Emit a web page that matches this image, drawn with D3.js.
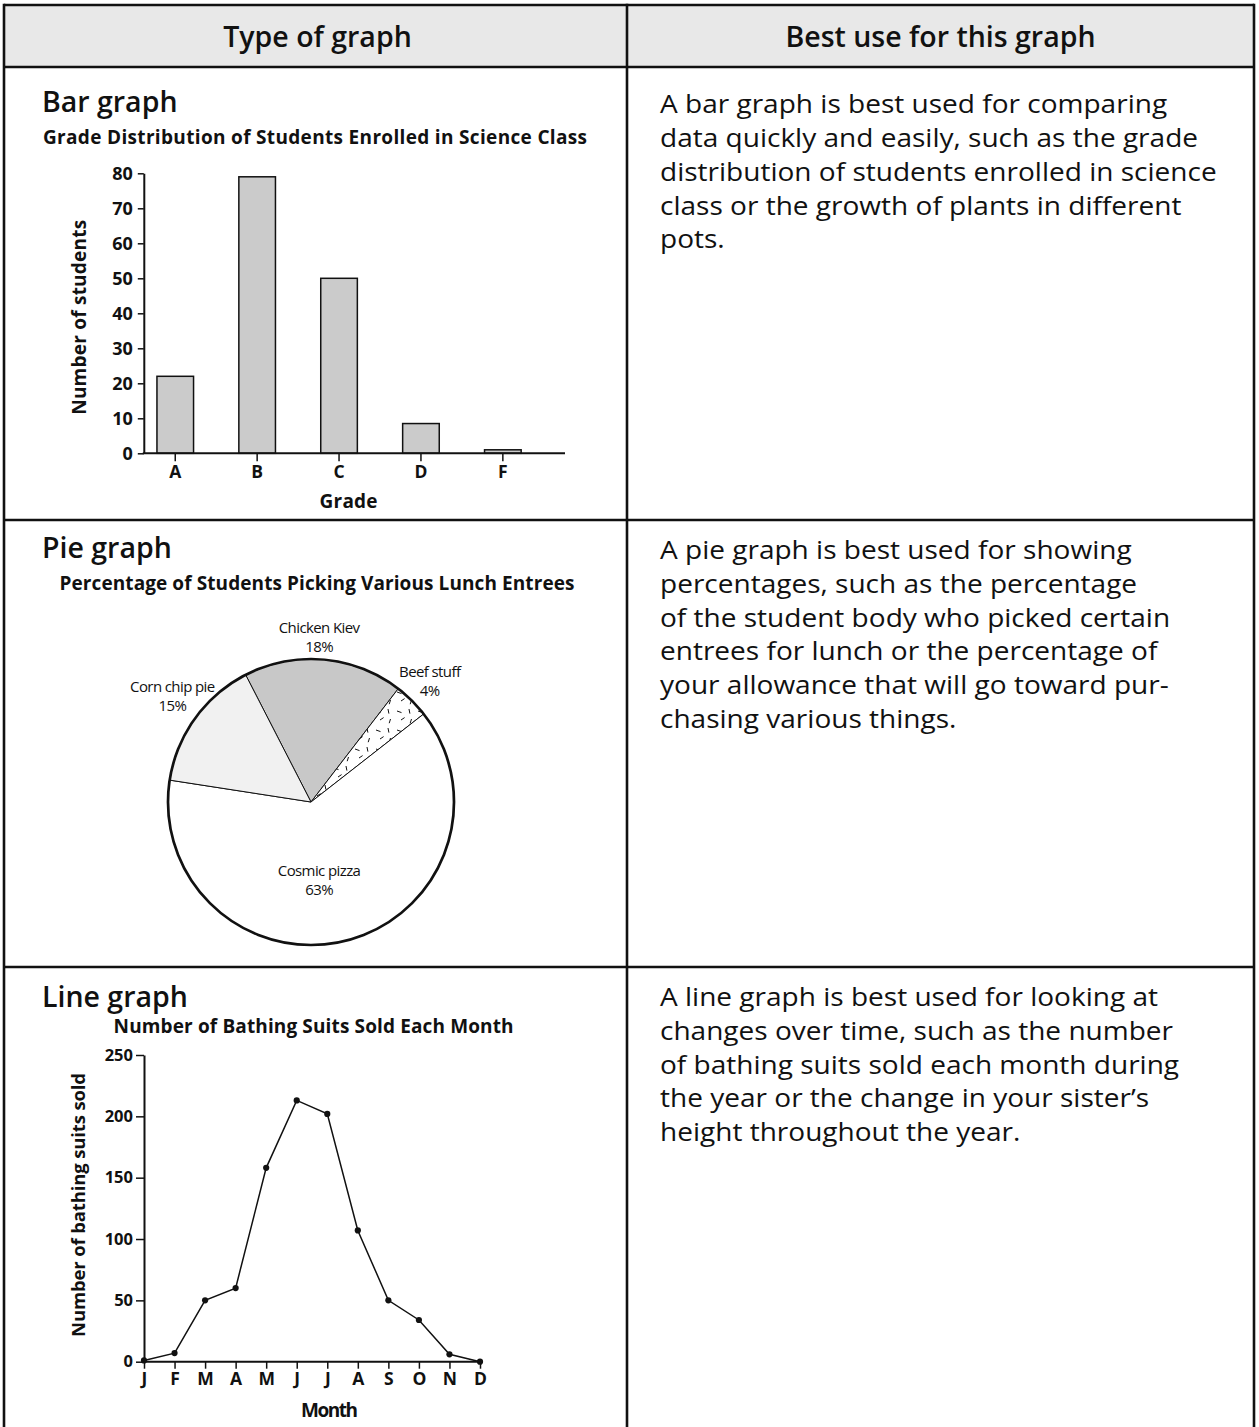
<!DOCTYPE html>
<html>
<head>
<meta charset="utf-8">
<script src="https://cdn.jsdelivr.net/npm/d3@7"></script>
<style>
  html, body { margin: 0; padding: 0; background: #fff; }
  svg { display: block; }
  text { font-family: "Open Sans", "Noto Sans", sans-serif; fill: #111; }
</style>
</head>
<body>
<svg id="page" width="1259" height="1427"></svg>
<script>
// ---- Grade distribution (bar graph) ----
const grades = ["A", "B", "C", "D", "F"];
const gradeCounts = [22, 79, 50, 8.5, 1];
const gradeTicks = [0, 10, 20, 30, 40, 50, 60, 70, 80];

// ---- Lunch entrees (pie graph) ----
const entrees = ["Chicken Kiev", "Beef stuff", "Cosmic pizza", "Corn chip pie"];
const entreePercents = [18, 4, 63, 15];

// ---- Bathing suits sold (line graph) ----
const months = ["J", "F", "M", "A", "M", "J", "J", "A", "S", "O", "N", "D"];
const suitsSold = [1, 7, 50, 60, 158, 213, 202, 107, 50, 34, 6, 0];
const suitTicks = [0, 50, 100, 150, 200, 250];

// ---- Table text ----
const headers = ["Type of graph", "Best use for this graph"];
const rowTitles = ["Bar graph", "Pie graph", "Line graph"];
const chartTitles = [
  "Grade Distribution of Students Enrolled in Science Class",
  "Percentage of Students Picking Various Lunch Entrees",
  "Number of Bathing Suits Sold Each Month"
];
const descriptions = [
  ["A bar graph is best used for comparing",
   "data quickly and easily, such as the grade",
   "distribution of students enrolled in science",
   "class or the growth of plants in different",
   "pots."],
  ["A pie graph is best used for showing",
   "percentages, such as the percentage",
   "of the student body who picked certain",
   "entrees for lunch or the percentage of",
   "your allowance that will go toward pur-",
   "chasing various things."],
  ["A line graph is best used for looking at",
   "changes over time, such as the number",
   "of bathing suits sold each month during",
   "the year or the change in your sister\u2019s",
   "height throughout the year."]
];

const svg = d3.select("#page");
const ink = "#111";
const bold = 700;

// bold chart label fitted to a set width
function boldLabel(parent, txt, size, width) {
  return parent.append("text")
    .attr("font-size", size)
    .attr("font-weight", bold)
    .attr("textLength", width)
    .attr("lengthAdjust", "spacing")
    .text(txt);
}

function styleAxis(a, size) {
  a.selectAll(".tick line").attr("stroke", ink).attr("stroke-width", 1.5);
  a.selectAll(".tick text")
    .attr("font-size", size).attr("font-weight", bold)
    .attr("font-family", "'Open Sans', sans-serif").attr("fill", ink);
}

// ---- Table frame ----
const T = { left: 4, right: 1254, top: 5, head: 67, split: 627, rows: [520, 967], bottom: 1440 };
svg.append("rect")
  .attr("x", T.left).attr("y", T.top)
  .attr("width", T.right - T.left).attr("height", T.head - T.top)
  .attr("fill", "#e8e8e8");

const frame = svg.append("g").attr("stroke", ink).attr("stroke-width", 2.6).attr("fill", "none");
frame.append("line").attr("x1", T.left).attr("x2", T.right).attr("y1", T.top).attr("y2", T.top);
[T.head, ...T.rows].forEach(y =>
  frame.append("line").attr("x1", T.left).attr("x2", T.right).attr("y1", y).attr("y2", y));
[T.left, T.split, T.right].forEach(x =>
  frame.append("line").attr("x1", x).attr("x2", x).attr("y1", T.top - 1.3).attr("y2", T.bottom));

svg.selectAll("text.header").data(headers).join("text")
  .attr("class", "header")
  .attr("x", (d, i) => i === 0 ? (T.left + T.split) / 2 + 2 : (T.split + T.right) / 2)
  .attr("y", 47)
  .attr("text-anchor", "middle")
  .attr("font-size", 28.5)
  .attr("font-weight", 600)
  .text(d => d);

const headingBaseline = [112, 558, 1007];
svg.selectAll("text.rowtitle").data(rowTitles).join("text")
  .attr("class", "rowtitle")
  .attr("x", 42)
  .attr("y", (d, i) => headingBaseline[i])
  .attr("font-size", 28.5)
  .attr("font-weight", 600)
  .text(d => d);

// descriptive paragraphs: compact face, widened horizontally
const descBaseline = [113.3, 559, 1006];
const descLead = 33.8;
const descSize = 24.6, descStretch = 1.14;
descriptions.forEach((lines, i) => {
  svg.append("g")
    .attr("transform", `translate(660,${descBaseline[i]}) scale(${descStretch},1)`)
    .selectAll("text").data(lines).join("text")
    .attr("x", 0)
    .attr("y", (d, j) => j * descLead)
    .attr("font-size", descSize)
    .attr("fill", "#111")
    .text(d => d);
});

// ---------------- Bar graph ----------------
{
  const g = svg.append("g");
  const y = d3.scaleLinear().domain([0, 80]).range([453.3, 173.3]);
  const x = d3.scaleBand().domain(grades).range([134.3, 543.8])
    .paddingInner(0.553).paddingOuter(0.2765);
  const axisLeftX = 143.8, axisRightX = 565;

  boldLabel(g, chartTitles[0], 19, 544).attr("x", 43).attr("y", 144);

  g.selectAll("rect.bar").data(grades).join("rect")
    .attr("class", "bar")
    .attr("x", d => x(d))
    .attr("width", x.bandwidth())
    .attr("y", (d, i) => y(gradeCounts[i]))
    .attr("height", (d, i) => y(0) - y(gradeCounts[i]))
    .attr("fill", "#cbcbcb")
    .attr("stroke", ink)
    .attr("stroke-width", 1.5);

  const ya = g.append("g")
    .attr("transform", `translate(${axisLeftX},0)`)
    .call(d3.axisLeft(y).tickValues(gradeTicks).tickSize(6).tickSizeOuter(0).tickPadding(5));
  ya.select(".domain").attr("stroke", ink).attr("stroke-width", 2);
  styleAxis(ya, 18);

  const xa = g.append("g")
    .attr("transform", `translate(0,${y(0)})`)
    .call(d3.axisBottom(x).tickSize(8).tickSizeOuter(0).tickPadding(4));
  xa.select(".domain").remove();
  styleAxis(xa, 17.5);
  g.append("line")
    .attr("x1", axisLeftX - 1).attr("x2", axisRightX)
    .attr("y1", y(0)).attr("y2", y(0))
    .attr("stroke", ink).attr("stroke-width", 2);

  boldLabel(g, "Grade", 19, 58)
    .attr("x", 348.6).attr("y", 508)
    .attr("text-anchor", "middle");

  boldLabel(g, "Number of students", 19, 195)
    .attr("transform", `translate(85.5,${(y(0) + y(80)) / 2 + 4}) rotate(-90)`)
    .attr("text-anchor", "middle");
}

// ---------------- Pie graph ----------------
{
  const g = svg.append("g");
  boldLabel(g, chartTitles[1], 19, 515)
    .attr("x", 317).attr("y", 590)
    .attr("text-anchor", "middle");

  // short scattered dashes used to texture the small slice
  const defs = svg.append("defs");
  const pat = defs.append("pattern")
    .attr("id", "speckle")
    .attr("patternUnits", "userSpaceOnUse")
    .attr("width", 21).attr("height", 19);
  pat.append("rect").attr("width", 21).attr("height", 19).attr("fill", "#fff");
  pat.append("path")
    .attr("d", "M2,4 l4.5,1.6 M14,2 l0.9,4.6 M6,13 l3.6,-2.4 M16.5,12 l-1.3,4.2")
    .attr("stroke", ink).attr("stroke-width", 1).attr("fill", "none");

  const fills = {
    "Chicken Kiev": "#c8c8c8",
    "Beef stuff": "url(#speckle)",
    "Cosmic pizza": "#ffffff",
    "Corn chip pie": "#f1f1f1"
  };
  // label distance from the centre and a small turn off the slice bisector (degrees)
  const labelPlace = {
    "Chicken Kiev": { dist: 166, turn: -2.4 },
    "Beef stuff": { dist: 170, turn: -0.5 },
    "Cosmic pizza": { dist: 77, turn: 8.6 },
    "Corn chip pie": { dist: 175, turn: 1.8 }
  };

  const cx = 311, cy = 802, r = 143;
  const start = -27.2 * Math.PI / 180;
  const pie = d3.pie().sort(null).value(d => d.pct)
    .startAngle(start).endAngle(start + 2 * Math.PI);
  const slices = pie(entrees.map((name, i) => ({ name, pct: entreePercents[i] })));
  const arc = d3.arc().innerRadius(0).outerRadius(r);

  const pg = g.append("g").attr("transform", `translate(${cx},${cy})`);
  pg.selectAll("path.slice").data(slices).join("path")
    .attr("class", "slice")
    .attr("d", arc)
    .attr("fill", d => fills[d.data.name])
    .attr("stroke", ink)
    .attr("stroke-width", 1);
  pg.append("circle").attr("r", r)
    .attr("fill", "none").attr("stroke", ink).attr("stroke-width", 2.7);

  const lab = pg.selectAll("g.plabel").data(slices).join("g")
    .attr("class", "plabel")
    .attr("transform", d => {
      const p = labelPlace[d.data.name];
      const a = (d.startAngle + d.endAngle) / 2 + p.turn * Math.PI / 180;
      return `translate(${Math.sin(a) * p.dist},${-Math.cos(a) * p.dist})`;
    });
  const labText = (sel, yy, fn) => sel.append("text")
    .attr("y", yy)
    .attr("text-anchor", "middle")
    .attr("font-size", 15)
    .attr("font-weight", 500)
    .attr("letter-spacing", -0.6)
    .attr("fill", "#000")
    .text(fn);
  labText(lab, -3, d => d.data.name);
  labText(lab, 16, d => d.data.pct + "%");
}

// ---------------- Line graph ----------------
{
  const g = svg.append("g");
  const idx = d3.range(months.length);
  const x = d3.scalePoint().domain(idx).range([144, 480]);
  const y = d3.scaleLinear().domain([0, 250]).range([1361.7, 1055]);

  boldLabel(g, chartTitles[2], 19, 400)
    .attr("x", 313.6).attr("y", 1033)
    .attr("text-anchor", "middle");

  const ya = g.append("g")
    .attr("transform", `translate(${x(0)},0)`)
    .call(d3.axisLeft(y).tickValues(suitTicks).tickSize(8).tickSizeOuter(0).tickPadding(3));
  ya.select(".domain").attr("stroke", ink).attr("stroke-width", 2);
  styleAxis(ya, 16.5);

  const xa = g.append("g")
    .attr("transform", `translate(0,${y(0)})`)
    .call(d3.axisBottom(x).tickFormat(i => months[i]).tickSize(7).tickSizeOuter(0).tickPadding(4));
  xa.select(".domain").remove();
  styleAxis(xa, 17.5);
  g.append("line")
    .attr("x1", x(0) - 1).attr("x2", x(11) + 3)
    .attr("y1", y(0)).attr("y2", y(0))
    .attr("stroke", ink).attr("stroke-width", 2);

  const line = d3.line().x((d, i) => x(i)).y(d => y(d));
  g.append("path")
    .datum(suitsSold)
    .attr("d", line)
    .attr("fill", "none")
    .attr("stroke", ink)
    .attr("stroke-width", 1.5);
  g.selectAll("circle.pt").data(suitsSold).join("circle")
    .attr("class", "pt")
    .attr("cx", (d, i) => x(i))
    .attr("cy", d => y(d))
    .attr("r", 3.1)
    .attr("fill", ink);

  boldLabel(g, "Month", 19, 57)
    .attr("x", 329.5).attr("y", 1417)
    .attr("text-anchor", "middle");

  boldLabel(g, "Number of bathing suits sold", 18.5, 264)
    .attr("transform", `translate(85,1205) rotate(-90)`)
    .attr("text-anchor", "middle");
}
</script>
</body>
</html>
